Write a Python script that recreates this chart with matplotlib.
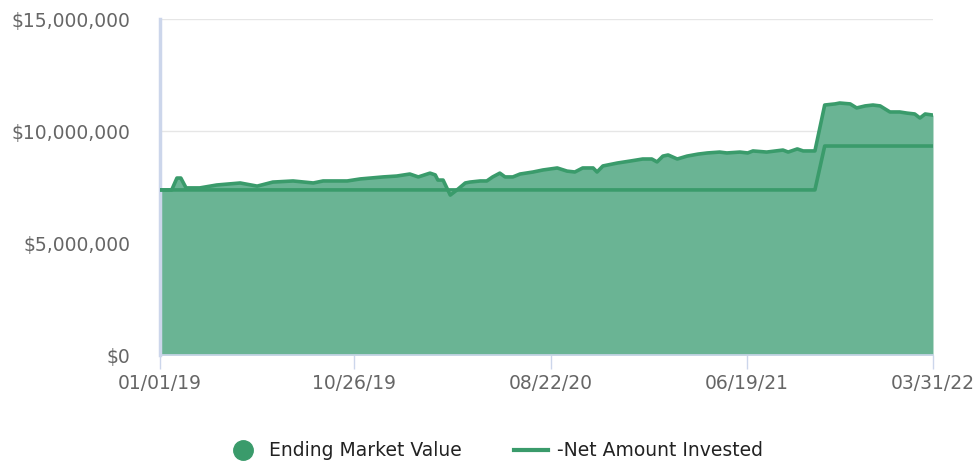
import matplotlib
matplotlib.use("Agg")
import matplotlib.pyplot as plt
import matplotlib.dates as mdates
import pandas as pd
from matplotlib.lines import Line2D

dates = ["2019-01-01","2019-01-19","2019-01-27","2019-02-02","2019-02-10","2019-03-03","2019-03-29",
         "2019-05-04","2019-05-30","2019-06-23","2019-07-24","2019-08-24","2019-09-08","2019-10-15",
         "2019-11-04","2019-12-09","2019-12-30","2020-01-19","2020-02-01","2020-02-19","2020-02-27",
         "2020-03-02","2020-03-10","2020-03-21","2020-04-02","2020-04-13","2020-04-20","2020-05-06",
         "2020-05-16","2020-05-25","2020-06-05","2020-06-13","2020-06-25","2020-07-06","2020-07-26",
         "2020-08-10","2020-09-01","2020-09-16","2020-09-28","2020-10-10","2020-10-26","2020-11-01",
         "2020-11-10","2020-12-02","2020-12-22","2021-01-10","2021-01-24","2021-02-01","2021-02-10",
         "2021-02-18","2021-03-04","2021-03-19","2021-04-05","2021-04-19","2021-05-08","2021-05-19",
         "2021-06-08","2021-06-20","2021-06-28","2021-07-19","2021-08-13","2021-08-21","2021-09-04",
         "2021-09-13","2021-10-01","2021-10-16","2021-11-01","2021-11-08","2021-11-24","2021-12-04",
         "2021-12-17","2021-12-29","2022-01-09","2022-01-24","2022-02-08","2022-02-19","2022-03-03",
         "2022-03-11","2022-03-19","2022-03-31"]

ending_market_value = [7.37,7.37,7.90,7.90,7.46,7.46,7.59,
                       7.68,7.54,7.72,7.77,7.68,7.77,7.77,
                       7.86,7.95,7.99,8.08,7.95,8.12,8.04,
                       7.81,7.81,7.14,7.41,7.68,7.72,7.77,
                       7.77,7.95,8.12,7.95,7.95,8.08,8.17,
                       8.26,8.35,8.21,8.17,8.35,8.35,8.17,
                       8.44,8.57,8.66,8.75,8.75,8.62,8.88,
                       8.93,8.75,8.88,8.97,9.02,9.06,9.02,
                       9.06,9.02,9.11,9.06,9.15,9.06,9.20,
                       9.11,9.11,11.16,11.21,11.25,11.21,11.03,
                       11.12,11.16,11.12,10.85,10.85,10.80,10.76,
                       10.58,10.76,10.71]

net_amount_invested = [7.37]*65 + [9.33]*15

tick_dates = ["2019-01-01","2019-10-26","2020-08-22","2021-06-19","2022-03-31"]
tick_labels = ["01/01/19","10/26/19","08/22/20","06/19/21","03/31/22"]
y_ticks = [0, 5, 10, 15]
y_labels = ["$0","$5,000,000","$10,000,000","$15,000,000"]

x = pd.to_datetime(dates)
emv = [v * 1e6 for v in ending_market_value]
net = [v * 1e6 for v in net_amount_invested]

fill_c = "#6ab494"
line_c = "#3a9b6b"
axis_c = "#ccd6eb"
text_c = "#666666"

fig = plt.figure(figsize=(9.79, 4.67), dpi=100)
ax = fig.add_axes([0.1634, 0.2398, 0.7896, 0.7195])

ax.fill_between(x, 0, emv, color=fill_c, lw=0, zorder=2)
ax.plot(x, emv, color=line_c, lw=2.6, zorder=3, solid_joinstyle="round")
ax.plot(x, net, color=line_c, lw=2.6, zorder=3, solid_joinstyle="round")

ax.set_xlim(x[0], x[-1])
ax.set_ylim(0, 15e6)
ax.set_yticks([v * 1e6 for v in y_ticks])
ax.set_yticklabels(y_labels)
ax.set_xticks(pd.to_datetime(tick_dates))
ax.set_xticklabels(tick_labels)

ax.grid(axis="y", color="#e6e6e6", lw=1, zorder=0)
ax.set_axisbelow(True)
for s in ["top", "right"]:
    ax.spines[s].set_visible(False)
ax.spines["left"].set_color(axis_c)
ax.spines["left"].set_linewidth(2.5)
ax.spines["bottom"].set_color(axis_c)
ax.spines["bottom"].set_linewidth(1.2)
ax.spines["bottom"].set_zorder(4)
ax.tick_params(axis="y", length=0, pad=21.5, labelsize=13.5, labelcolor=text_c)
ax.tick_params(axis="x", length=10, width=1, color=axis_c, pad=4, labelsize=13.5, labelcolor=text_c)

handles = [Line2D([], [], marker="o", color="none", markerfacecolor=line_c, markeredgecolor=line_c, markersize=14),
           Line2D([], [], color=line_c, lw=3)]
leg = fig.legend(handles, ["Ending Market Value", "-Net Amount Invested"], loc="center",
                 bbox_to_anchor=(0.505, 0.035), ncol=2, frameon=False, fontsize=13.5,
                 handlelength=1.8, columnspacing=2.8, handletextpad=0.5)
for t in leg.get_texts():
    t.set_color("#222222")

fig.savefig("out.png", dpi=100)
